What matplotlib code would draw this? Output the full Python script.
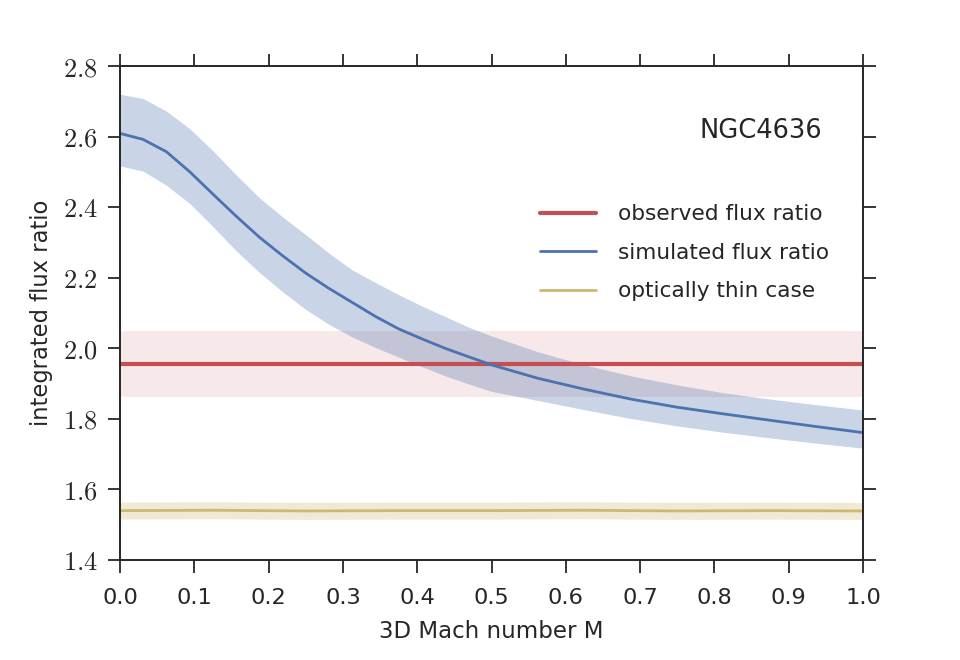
import matplotlib
matplotlib.use("Agg")
import matplotlib.pyplot as plt
import seaborn as sns

# data
mach = [0.0, 0.031, 0.0625, 0.094, 0.125, 0.156, 0.1875, 0.219, 0.25, 0.281,
        0.3125, 0.344, 0.375, 0.406, 0.4375, 0.469, 0.5,
        0.5625, 0.625, 0.6875, 0.75, 0.8125, 0.875, 0.9375, 1.0]
sim_mid = [2.609, 2.592, 2.557, 2.500, 2.437, 2.375, 2.315, 2.262, 2.213, 2.170,
           2.130, 2.090, 2.055, 2.027, 2.000, 1.976, 1.953,
           1.915, 1.884, 1.856, 1.833, 1.814, 1.796, 1.778, 1.761]
sim_hi = [2.720, 2.708, 2.672, 2.622, 2.560, 2.492, 2.427, 2.372, 2.322, 2.270,
          2.222, 2.186, 2.152, 2.120, 2.090, 2.060, 2.035,
          1.990, 1.953, 1.922, 1.896, 1.874, 1.856, 1.840, 1.825]
sim_lo = [2.517, 2.502, 2.462, 2.410, 2.345, 2.277, 2.215, 2.160, 2.110, 2.068,
          2.032, 2.002, 1.975, 1.948, 1.922, 1.899, 1.878,
          1.852, 1.826, 1.801, 1.780, 1.762, 1.746, 1.731, 1.717]

thin_x = [0.0, 0.125, 0.25, 0.375, 0.5, 0.625, 0.75, 0.875, 1.0]
thin_mid = [1.540, 1.541, 1.539, 1.540, 1.540, 1.541, 1.539, 1.540, 1.539]
thin_err = 0.024

obs_ratio = 1.955
obs_err = 0.093

yticks = [1.4, 1.6, 1.8, 2.0, 2.2, 2.4, 2.6, 2.8]
xticks = [0.0, 0.1, 0.2, 0.3, 0.4, 0.5, 0.6, 0.7, 0.8, 0.9, 1.0]

sns.set_style("ticks")
plt.rcParams['font.family'] = ['DejaVu Sans']
plt.rcParams['mathtext.fontset'] = 'cm'

blue, red, yellow = "#4C72B0", "#C44E52", "#CCB974"
dark = "#262626"

fig = plt.figure(figsize=(9.6, 6.6), dpi=100)
ax = fig.add_axes([0.125, 0.1515, 0.774, 0.7485])

# observed
ax.axhspan(obs_ratio - obs_err, obs_ratio + obs_err, color=red, alpha=0.12, lw=0)
ax.axhline(obs_ratio, color=red, lw=3, label="observed flux ratio")

# simulated
ax.fill_between(mach, sim_lo, sim_hi, color=blue, alpha=0.3, lw=0)
ax.plot(mach, sim_mid, color=blue, lw=2, label="simulated flux ratio")

# optically thin
ax.fill_between(thin_x, [v - thin_err for v in thin_mid], [v + thin_err for v in thin_mid],
                color=yellow, alpha=0.3, lw=0)
ax.plot(thin_x, thin_mid, color=yellow, lw=2, label="optically thin case")

ax.set_xlim(0, 1)
ax.set_ylim(1.4, 2.8)
ax.set_xticks(xticks)
ax.set_xticklabels([f"{t:.1f}" for t in xticks], fontsize=16.2)
ax.set_yticks(yticks)
ax.set_yticklabels([f"${t:.1f}$" for t in yticks], fontsize=19)

ax.tick_params(which="both", direction="out", length=9, width=1.3,
               top=True, right=True, colors=dark)
ax.tick_params(axis="x", pad=11)
ax.tick_params(axis="y", pad=7)
for s in ax.spines.values():
    s.set_linewidth(1.4)
    s.set_color(dark)

ax.set_xlabel("3D Mach number M", fontsize=16.5, color=dark, labelpad=9)
ax.set_ylabel("integrated flux ratio", fontsize=16.3, color=dark, labelpad=7)

ax.text(0.945, 0.868, "NGC4636", transform=ax.transAxes, ha="right", va="center",
        fontsize=18.5, color=dark)

ax.legend(loc="upper left", bbox_to_anchor=(0.565, 0.72), frameon=False,
          fontsize=15.6, handlelength=2.6, handletextpad=1.0, labelspacing=0.85,
          borderpad=0, borderaxespad=0)

fig.savefig("out.png", dpi=100)
